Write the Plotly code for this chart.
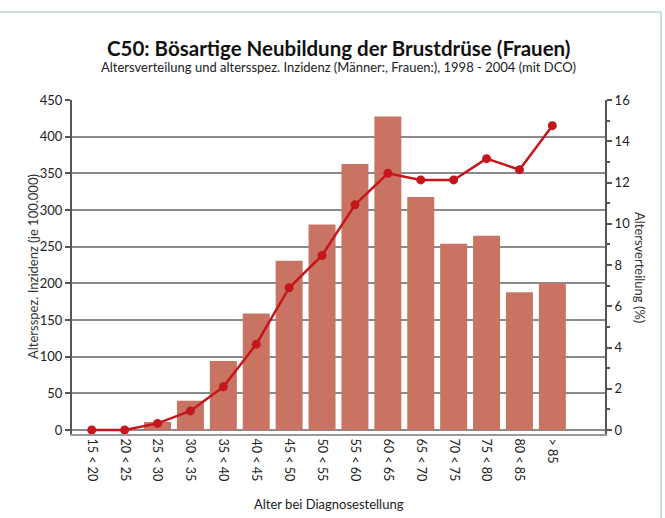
import plotly.graph_objects as go

categories = ["15 < 20", "20 < 25", "25 < 30", "30 < 35", "35 < 40", "40 < 45", "45 < 50",
              "50 < 55", "55 < 60", "60 < 65", "65 < 70", "70 < 75", "75 < 80", "80 < 85", "> 85"]
altersverteilung_pct = [0.0, 0.02, 0.39, 1.42, 3.34, 5.65, 8.21, 9.96, 12.9, 15.2, 11.3, 9.03, 9.42, 6.68, 7.11]
inzidenz = [0, 0, 9, 26, 59, 117, 194, 238, 307, 350, 341, 341, 370, 355, 415]

left_ticks = [0, 50, 100, 150, 200, 250, 300, 350, 400, 450]
right_ticks = [0, 2, 4, 6, 8, 10, 12, 14, 16]

FONT = "Lato, Open Sans, sans-serif"
W, H = 665, 518
ML, MR, MT, MB = 72, 60, 100, 84
PW, PH = W - ML - MR, H - MT - MB

fig = go.Figure()
fig.add_trace(go.Bar(x=categories, y=altersverteilung_pct, yaxis="y",
                     marker=dict(color="#c97462", line=dict(width=0)), name="Altersverteilung"))
fig.add_trace(go.Scatter(x=categories, y=inzidenz, yaxis="y2", mode="lines+markers",
                         line=dict(color="#c4161c", width=2.5),
                         marker=dict(color="#c4161c", size=9), name="Inzidenz"))

fig.update_layout(
    width=W, height=H,
    margin=dict(l=ML, r=MR, t=MT, b=MB, autoexpand=False),
    paper_bgcolor="white", plot_bgcolor="white",
    showlegend=False, bargap=0.18,
    font=dict(family=FONT, color="#222", size=12),
    xaxis=dict(type="category", range=[-0.6, 15.6], tickangle=90, automargin=False,
               showline=True, linecolor="#9a9a9a", linewidth=2, showgrid=False,
               ticks="", tickfont=dict(size=12.5, color="#222")),
    yaxis=dict(side="right", range=[-0.194, 16], tickvals=right_ticks, automargin=False,
               showgrid=False, zeroline=False, showline=True, linecolor="#555", linewidth=2,
               ticks="outside", ticklen=5, tickcolor="#555", tickwidth=1.5,
               minor=dict(dtick=1, ticks="outside", ticklen=3, tickcolor="#555"),
               tickfont=dict(size=13, color="#222")),
    yaxis2=dict(side="left", overlaying="y", range=[-5.45, 450], tickvals=left_ticks, automargin=False,
                showgrid=True, gridcolor="#8a8a8a", gridwidth=1.5, zeroline=False,
                showline=True, linecolor="#555", linewidth=2,
                ticks="outside", ticklen=5, tickcolor="#555", tickwidth=1.5,
                tickfont=dict(size=13, color="#222")),
)

# faint frame of the original picture (top and right edge)
x_left, x_right = -ML / PW, (661 - ML) / PW
y_top, y_bot = (H - MB - 12) / PH, -MB / PH
fig.add_shape(type="line", xref="paper", yref="paper", x0=x_left, x1=x_right, y0=y_top, y1=y_top,
              line=dict(color="#b9d3cf", width=1.5))
fig.add_shape(type="line", xref="paper", yref="paper", x0=x_right, x1=x_right, y0=y_top, y1=y_bot,
              line=dict(color="#b9d3cf", width=1.5))

fig.add_annotation(text="<b>C50: Bösartige Neubildung der Brustdrüse (Frauen)</b>",
                   xref="paper", yref="paper", x=0.5, y=1, yshift=52, showarrow=False,
                   font=dict(size=20.5, color="#111", family=FONT), xanchor="center", yanchor="middle")
fig.add_annotation(text="Altersverteilung und altersspez. Inzidenz (Männer:, Frauen:), 1998 - 2004 (mit DCO)",
                   xref="paper", yref="paper", x=0.5, y=1, yshift=33, showarrow=False,
                   font=dict(size=13, color="#222", family=FONT), xanchor="center", yanchor="middle")
fig.add_annotation(text="Altersspez. Inzidenz (je 100.000)", textangle=-90,
                   xref="paper", yref="paper", x=0, xshift=-39, y=0.5, showarrow=False,
                   font=dict(size=13, color="#333", family=FONT), xanchor="center", yanchor="middle")
fig.add_annotation(text="Altersverteilung (%)", textangle=90,
                   xref="paper", yref="paper", x=1, xshift=35, y=0.5, showarrow=False,
                   font=dict(size=13, color="#333", family=FONT), xanchor="center", yanchor="middle")
fig.add_annotation(text="Alter bei Diagnosestellung",
                   xref="paper", yref="paper", x=0.483, y=0, yshift=-70, showarrow=False,
                   font=dict(size=13, color="#222", family=FONT), xanchor="center", yanchor="middle")

fig.write_html("out.html", config={"displayModeBar": False},
               post_script="document.body.style.margin='0';")
